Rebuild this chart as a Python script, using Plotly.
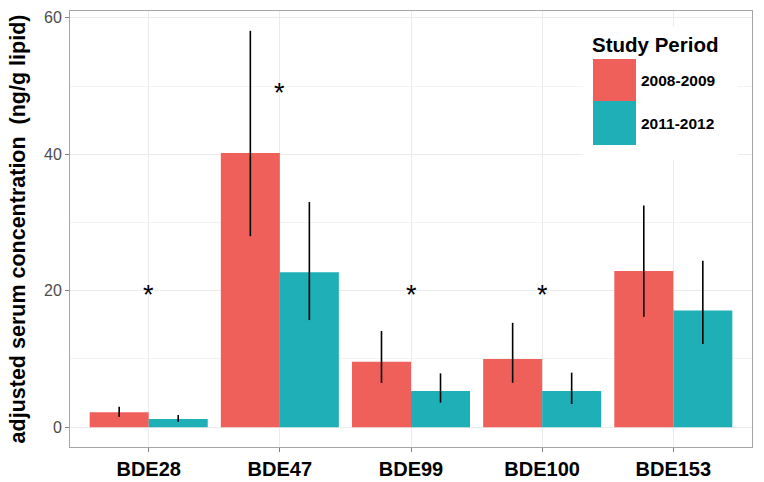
import plotly.graph_objects as go

categories = ["BDE28", "BDE47", "BDE99", "BDE100", "BDE153"]
periods = ["2008-2009", "2011-2012"]
vals_0809 = [2.2, 40.2, 9.6, 10.0, 22.9]
lo_0809 = [1.5, 28.0, 6.5, 6.5, 16.2]
hi_0809 = [3.0, 58.1, 14.1, 15.3, 32.5]
vals_1112 = [1.2, 22.7, 5.3, 5.3, 17.1]
lo_1112 = [0.8, 15.7, 3.6, 3.4, 12.2]
hi_1112 = [1.8, 33.0, 7.9, 8.0, 24.4]
star_cats = ["BDE28", "BDE47", "BDE99", "BDE100"]
star_y = [20, 49.5, 20, 20]

colors = ["#F0605A", "#1FAFB6"]

fig = go.Figure()
for name, v, lo, hi, c in [(periods[0], vals_0809, lo_0809, hi_0809, colors[0]),
                           (periods[1], vals_1112, lo_1112, hi_1112, colors[1])]:
    fig.add_trace(go.Bar(
        x=categories, y=v, name=name, marker=dict(color=c, line=dict(width=0)),
        error_y=dict(type="data", symmetric=False,
                     array=[h - a for h, a in zip(hi, v)],
                     arrayminus=[a - l for a, l in zip(v, lo)],
                     color="black", thickness=1.6, width=0),
        showlegend=False))

for cat, yy in zip(star_cats, star_y):
    fig.add_annotation(x=cat, y=yy, text="*", showarrow=False, yanchor="middle",
                       font=dict(size=27, color="black", family="Liberation Sans"),
                       yshift=-4)

# legend drawn manually
lx0, lx1 = 593, 636
ly = [59, 101, 145]
W, H = 764, 482
ml, mr, mt, mb = 70, 12, 11, 35
pw, ph = W - ml - mr, H - mt - mb
def px(x): return (x - ml) / pw
def py(y): return 1 - (y - mt) / ph
fig.add_shape(type="rect", xref="paper", yref="paper", x0=px(583), x1=px(738), y0=py(160), y1=py(26),
              fillcolor="white", line=dict(width=0), layer="above")
for i, c in enumerate(colors):
    fig.add_shape(type="rect", xref="paper", yref="paper", x0=px(lx0), x1=px(lx1),
                  y0=py(ly[i + 1]), y1=py(ly[i]), fillcolor=c, line=dict(width=0), layer="above")
    fig.add_annotation(xref="paper", yref="paper", x=px(639), y=py((ly[i] + ly[i + 1]) / 2),
                       text="<b>%s</b>" % periods[i], showarrow=False, xanchor="left", yanchor="middle",
                       font=dict(size=15.5, color="black", family="Liberation Sans"))
fig.add_annotation(xref="paper", yref="paper", x=px(590), y=py(44), text="<b>Study Period</b>",
                   showarrow=False, xanchor="left", yanchor="middle",
                   font=dict(size=20.5, color="black", family="Liberation Sans"))

fig.update_layout(
    width=W, height=H, barmode="group", bargap=0.1, bargroupgap=0,
    margin=dict(l=ml, r=mr, t=mt, b=mb, autoexpand=False),
    plot_bgcolor="white", paper_bgcolor="white",
    font=dict(family="Liberation Sans"),
    xaxis=dict(range=[-0.6, 4.6], showgrid=True, gridcolor="#EBEBEB", gridwidth=1,
               ticks="outside", ticklen=4, tickcolor="#7F7F7F", automargin=False,
               tickfont=dict(size=20, color="black"), mirror=True, showline=True,
               linecolor="#A6A6A6", linewidth=1, zeroline=False,
               tickvals=categories, ticktext=["<b>%s</b>" % c for c in categories]),
    yaxis=dict(range=[-2.9, 61], tickvals=[0, 20, 40, 60], showgrid=True, gridcolor="#EBEBEB",
               minor=dict(tickvals=[10, 30, 50], showgrid=True, gridcolor="#F3F3F3"),
               ticks="outside", ticklen=4, tickcolor="#7F7F7F", automargin=False,
               tickfont=dict(size=16, color="#4D4D4D"), mirror=True, showline=True,
               linecolor="#A6A6A6", linewidth=1, zeroline=False,
               title=dict(text="<b>adjusted serum concentration  (ng/g lipid)</b>",
                          font=dict(size=21.5, color="black"), standoff=12)),
)
fig.write_html("out.html", config={"displayModeBar": False},
               post_script="document.body.style.margin='0';document.body.style.overflow='hidden';")
